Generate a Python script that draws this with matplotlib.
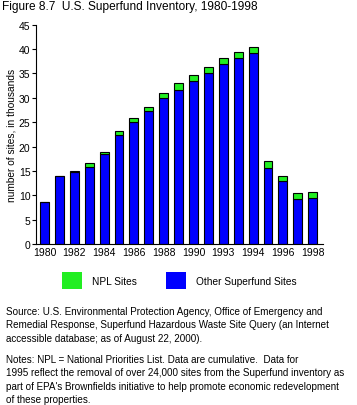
import matplotlib
matplotlib.use("Agg")
import matplotlib.pyplot as plt
from matplotlib.patches import Rectangle

plt.rcParams['font.family'] = ['Liberation Sans', 'DejaVu Sans']

years = list(range(1980, 1999))
tick_labels = ["1980", "1982", "1984", "1986", "1988", "1990", "1993", "1994", "1996", "1998"]
other_sites = [8.7, 13.9, 14.7, 15.9, 18.5, 22.4, 25.0, 27.2, 29.9, 31.6, 33.4, 35.1, 36.9, 38.2, 39.2, 15.5, 12.9, 9.2, 9.4]
npl_sites = [0.0, 0.0, 0.2, 0.7, 0.3, 0.8, 0.9, 1.0, 1.0, 1.4, 1.2, 1.2, 1.2, 1.3, 1.2, 1.5, 1.0, 1.2, 1.3]

BLUE = "#0000ff"
GREEN = "#22ee22"

fig = plt.figure(figsize=(3.57, 4.06), dpi=100)
W, H = 357, 406
ax = fig.add_axes([36 / W, 1 - 245 / H, (323 - 36) / W, (245 - 25.7) / H])

x = list(range(len(years)))
ax.bar(x, other_sites, width=0.6, color=BLUE, edgecolor="black", linewidth=0.8)
ax.bar(x, npl_sites, bottom=other_sites, width=0.6, color=GREEN, edgecolor="black", linewidth=0.8)

ax.set_ylim(0, 45)
ax.set_xlim(-0.57, 18.69)
ax.set_yticks(range(0, 46, 5))
ax.set_xticks(x[::2])
ax.set_xticklabels(tick_labels)
ax.tick_params(axis='y', length=3, width=0.8, labelsize=7.5, pad=1)
ax.tick_params(axis='x', length=0, labelsize=7.5, pad=2)
for s in ("top", "right"):
    ax.spines[s].set_visible(False)
for s in ("left", "bottom"):
    ax.spines[s].set_linewidth(0.8)
ax.set_ylabel("number of sites, in thousands", fontsize=7.3, labelpad=2)

fig.text(2 / W, 1 - 7 / H, "Figure 8.7  U.S. Superfund Inventory, 1980-1998", fontsize=8.6, va="center", ha="left")

# legend
fig.patches.append(Rectangle((62 / W, 1 - 290 / H), 20 / W, 17 / H, transform=fig.transFigure,
                             facecolor=GREEN, edgecolor="none"))
fig.text(92 / W, 1 - 282 / H, "NPL Sites", fontsize=7.3, va="center", ha="left")
fig.patches.append(Rectangle((166 / W, 1 - 290 / H), 20 / W, 17 / H, transform=fig.transFigure,
                             facecolor=BLUE, edgecolor="none"))
fig.text(196 / W, 1 - 282 / H, "Other Superfund Sites", fontsize=7.3, va="center", ha="left")

source_lines = [
    "Source: U.S. Environmental Protection Agency, Office of Emergency and",
    "Remedial Response, Superfund Hazardous Waste Site Query (an Internet",
    "accessible database; as of August 22, 2000).",
]
notes_lines = [
    "Notes: NPL = National Priorities List. Data are cumulative.  Data for",
    "1995 reflect the removal of over 24,000 sites from the Superfund inventory as",
    "part of EPA's Brownfields initiative to help promote economic redevelopment",
    "of these properties.",
]
for i, line in enumerate(source_lines):
    fig.text(6 / W, 1 - (312 + 13.5 * i) / H, line, fontsize=7.15, va="center", ha="left")
for i, line in enumerate(notes_lines):
    fig.text(6 / W, 1 - (360 + 13.5 * i) / H, line, fontsize=7.15, va="center", ha="left")

fig.savefig("out.png", dpi=100)
